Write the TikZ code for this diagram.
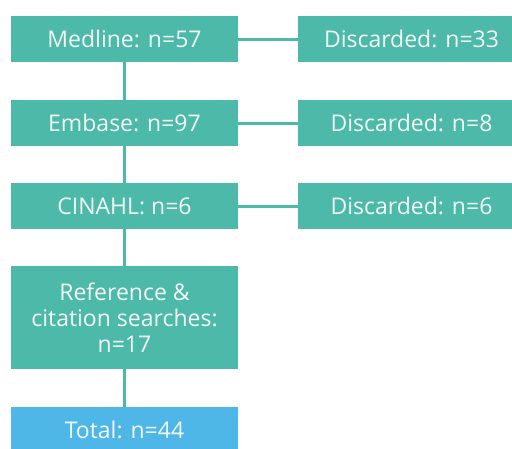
\documentclass[tikz,border=0pt]{standalone}
\usepackage{fontspec}
\setmainfont{Open Sans}
\definecolor{teal}{HTML}{4DB9A8}
\definecolor{sky}{HTML}{4FB6E8}
\definecolor{txt}{HTML}{F2FAF8}
\begin{document}
\begin{tikzpicture}[x=1pt,y=-1pt,
  box/.style={fill=teal,text=txt,inner sep=0pt,minimum width=227pt,minimum height=46pt,font=\fontsize{23}{26}\selectfont,align=center},
  conn/.style={draw=teal,line width=3pt}]
\useasboundingbox (0,0) rectangle (512,448);
\node[box] (med) at (124.5,39) {Medline: n=57};
\node[box] (emb) at (124.5,123) {Embase: n=97};
\node[box] (cin) at (124.5,206) {CINAHL: n=6};
\node[box,minimum height=103pt] (ref) at (124.5,317.5) {Reference \&\\citation searches:\\n=17};
\node[box,fill=sky] (tot) at (124.5,430) {Total: n=44};
\node[box] (d1) at (411.5,39) {Discarded: n=33};
\node[box] (d2) at (411.5,123) {Discarded: n=8};
\node[box] (d3) at (411.5,206) {Discarded: n=6};
\draw[conn] (med) -- (emb);
\draw[conn] (emb) -- (cin);
\draw[conn] (cin) -- (ref);
\draw[conn] (ref) -- (tot);
\draw[conn] (med) -- (d1);
\draw[conn] (emb) -- (d2);
\draw[conn] (cin) -- (d3);
\end{tikzpicture}
\end{document}
